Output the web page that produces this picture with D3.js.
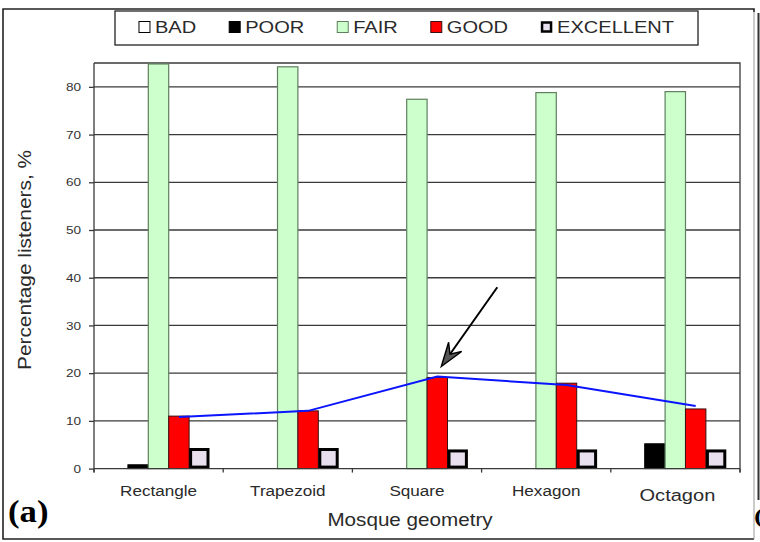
<!DOCTYPE html>
<html>
<head>
<meta charset="utf-8">
<script src="https://cdn.jsdelivr.net/npm/d3@7/dist/d3.min.js"></script>
<style>
  html, body { margin: 0; padding: 0; background: #fff; }
  svg { display: block; font-family: "Liberation Sans", Arial, sans-serif; }
</style>
</head>
<body>
<svg id="chart" width="760" height="542"></svg>
<script>
// Listener ratings per mosque geometry (% of listeners)
const categories = ["Rectangle", "Trapezoid", "Square", "Hexagon", "Octagon"];
const seriesNames = ["BAD", "POOR", "FAIR", "GOOD", "EXCELLENT"];
const badValues = [0, 0, 0, 0, 0];
const poorValues = [0.8, 0, 0, 0, 5.2];
const fairValues = [84.8, 84.2, 77.4, 78.8, 79.0];
const goodValues = [11.0, 12.1, 19.1, 17.9, 12.5];
const excellentValues = [4.0, 4.0, 3.7, 3.7, 3.7];
// trend line drawn over the GOOD bars
const trendValues = [10.8, 12.1, 19.3, 17.5, 13.1];
const yTicks = [0, 10, 20, 30, 40, 50, 60, 70, 80];
const yMax = 85;
const xTitle = "Mosque geometry";
const yTitle = "Percentage listeners, %";
const panelLabel = "(a)";
// arrow pointing at the Square peak
const arrowNote = { category: "Square", tailValue: 38, tipValue: 21.4 };

const seriesValues = [badValues, poorValues, fairValues, goodValues, excellentValues];
const seriesStyle = {
  BAD:       { fill: "#ffffff", stroke: "#000000", sw: 1 },
  POOR:      { fill: "#000000", stroke: "#000000", sw: 1 },
  FAIR:      { fill: "#ccffcc", stroke: "#5f7f5f", sw: 1.2 },
  GOOD:      { fill: "#ff0000", stroke: "#3a1010", sw: 1 },
  EXCELLENT: { fill: "#e8e0ee", stroke: "#000000", sw: 3 }
};

const SX = 1.18; // horizontal text stretch
const SERIF = "'Liberation Serif', 'Times New Roman', serif";

const svg = d3.select("#chart");
const plot = { left: 94, right: 740, top: 63, bottom: 468.6 };

const x = d3.scaleBand().domain(categories).range([plot.left, plot.right]).padding(0);
const inner = d3.scaleBand().domain(seriesNames)
  .range([13.5, x.bandwidth() - 13.7]).padding(0);
const y = d3.scaleLinear().domain([0, yMax]).range([plot.bottom, plot.top]);

// outer frame
svg.append("path")
  .attr("d", "M754,12 L754,9 L3,9 L3,539 L754,539")
  .attr("fill", "none").attr("stroke", "#222").attr("stroke-width", 1.6);
svg.append("line").attr("x1", 754).attr("x2", 754).attr("y1", 12).attr("y2", 539)
  .attr("stroke", "#999").attr("stroke-width", 1);
svg.append("line").attr("x1", 758.5).attr("x2", 758.5).attr("y1", 13).attr("y2", 500)
  .attr("stroke", "#333").attr("stroke-width", 2);
svg.append("text").attr("transform", "translate(754,523) scale(1.3,1)")
  .style("font-family", SERIF).attr("font-weight", "bold")
  .attr("font-size", 22).attr("fill", "#000").text("(");

// gridlines
svg.append("g").selectAll("line")
  .data(yTicks.filter(d => d > 0))
  .join("line")
  .attr("x1", plot.left).attr("x2", plot.right)
  .attr("y1", d => y(d)).attr("y2", d => y(d))
  .attr("stroke", "#3a3a3a").attr("stroke-width", 1.3);

// plot frame (top and right)
svg.append("path")
  .attr("d", `M${plot.left},${plot.top} L${plot.right},${plot.top} L${plot.right},${plot.bottom + 4}`)
  .attr("fill", "none").attr("stroke", "#3a3a3a").attr("stroke-width", 1.3);

// bars
const groups = svg.append("g").selectAll("g")
  .data(categories)
  .join("g")
  .attr("transform", d => `translate(${x(d)},0)`);

groups.selectAll("rect")
  .data((c, ci) => seriesNames.map((s, si) => ({ s, v: seriesValues[si][ci] })))
  .join("rect")
  .filter(d => d.v > 0)
  .attr("x", d => inner(d.s) + (d.s === "EXCELLENT" ? 1.5 : 0))
  .attr("width", d => inner.bandwidth() - (d.s === "EXCELLENT" ? 3 : 0))
  .attr("y", d => y(d.v))
  .attr("height", d => plot.bottom - y(d.v) - (d.s === "EXCELLENT" ? 1.5 : 0))
  .attr("fill", d => seriesStyle[d.s].fill)
  .attr("stroke", d => seriesStyle[d.s].stroke)
  .attr("stroke-width", d => seriesStyle[d.s].sw);

// trend line over GOOD bars
const goodCenter = c => x(c) + inner("GOOD") + inner.bandwidth() / 2;
svg.append("path")
  .datum(categories.map((c, i) => [goodCenter(c), y(trendValues[i])]))
  .attr("d", d3.line())
  .attr("fill", "none").attr("stroke", "#0a14ff").attr("stroke-width", 2);

// arrow annotation
{
  const gc = goodCenter(arrowNote.category);
  const tip = [gc + 4, y(arrowNote.tipValue)];
  const tail = [gc + 60, y(arrowNote.tailValue)];
  const dx = tip[0] - tail[0], dy = tip[1] - tail[1];
  const len = Math.hypot(dx, dy);
  const ux = dx / len, uy = dy / len, px = -uy, py = ux;
  const headLen = 24, halfW = 8, notch = 15;
  const b1 = [tip[0] - ux * headLen + px * halfW, tip[1] - uy * headLen + py * halfW];
  const b2 = [tip[0] - ux * headLen - px * halfW, tip[1] - uy * headLen - py * halfW];
  const n = [tip[0] - ux * notch, tip[1] - uy * notch];
  svg.append("line")
    .attr("x1", tail[0]).attr("y1", tail[1]).attr("x2", n[0]).attr("y2", n[1])
    .attr("stroke", "#000").attr("stroke-width", 2);
  svg.append("path")
    .attr("d", `M${tip}L${b1}L${n}L${b2}Z`)
    .attr("fill", "#555").attr("stroke", "#000").attr("stroke-width", 1.4)
    .attr("stroke-linejoin", "miter");
}

// y axis
const yAxis = svg.append("g")
  .attr("transform", `translate(${plot.left},0)`)
  .call(d3.axisLeft(y).tickValues(yTicks).tickSize(5).tickPadding(6).tickFormat(d3.format("d")));
yAxis.select(".domain").attr("stroke", "#3a3a3a").attr("stroke-width", 1.3)
  .attr("d", `M0,${plot.top}V${plot.bottom + 4}`);
yAxis.selectAll(".tick line").attr("stroke", "#3a3a3a").attr("stroke-width", 1.3);
yAxis.selectAll(".tick text")
  .attr("transform", `scale(${SX},1)`)
  .attr("font-size", 11.5).attr("fill", "#333")
  .style("font-family", "'Liberation Sans', Arial, sans-serif");

// x axis line with boundary ticks
const bounds = categories.map(c => x(c)).concat([plot.right]);
svg.append("line").attr("x1", plot.left).attr("x2", plot.right)
  .attr("y1", plot.bottom).attr("y2", plot.bottom)
  .attr("stroke", "#3a3a3a").attr("stroke-width", 1.3);
svg.append("g").selectAll("line").data(bounds).join("line")
  .attr("x1", d => d).attr("x2", d => d)
  .attr("y1", plot.bottom).attr("y2", plot.bottom + 4)
  .attr("stroke", "#3a3a3a").attr("stroke-width", 1.3);

// category labels
svg.append("g").selectAll("text").data(categories).join("text")
  .attr("transform", d => {
    const big = d === "Octagon";
    return `translate(${x(d) + x.bandwidth() / 2 + (big ? 2 : 0)},${big ? 501 : 495.5}) scale(${SX},1)`;
  })
  .attr("text-anchor", "middle")
  .attr("font-size", d => d === "Octagon" ? 17 : 14.5)
  .attr("fill", "#2a2a2a")
  .text(d => d);

// axis titles
svg.append("text")
  .attr("transform", `translate(${(plot.left + plot.right) / 2 - 7},526) scale(${SX},1)`)
  .attr("text-anchor", "middle").attr("font-size", 17.5).attr("fill", "#2a2a2a")
  .text(xTitle);
svg.append("text")
  .attr("transform", "translate(31,260) rotate(-90)")
  .attr("text-anchor", "middle").attr("font-size", 18).attr("fill", "#2a2a2a")
  .attr("textLength", 220).attr("lengthAdjust", "spacingAndGlyphs")
  .text(yTitle);

// panel label
svg.append("text")
  .attr("transform", `translate(8,522) scale(1.12,1)`)
  .style("font-family", SERIF)
  .attr("font-weight", "bold").attr("font-size", 31).attr("fill", "#000")
  .text(panelLabel);

// legend
const legendBox = { x: 115, y: 11, w: 583, h: 34 };
svg.append("rect")
  .attr("x", legendBox.x).attr("y", legendBox.y)
  .attr("width", legendBox.w).attr("height", legendBox.h)
  .attr("fill", "#fff").attr("stroke", "#222").attr("stroke-width", 1.3);

const legend = svg.append("g");
const items = legend.selectAll("g").data(seriesNames).join("g");
const sw = 11, swGap = 5, itemGap = 33;
items.append("rect")
  .attr("width", d => d === "EXCELLENT" ? sw - 2 : sw)
  .attr("height", d => d === "EXCELLENT" ? sw - 2 : sw)
  .attr("x", d => d === "EXCELLENT" ? 1 : 0)
  .attr("y", d => d === "EXCELLENT" ? 1 : 0)
  .attr("fill", d => seriesStyle[d].fill)
  .attr("stroke", d => seriesStyle[d].stroke)
  .attr("stroke-width", d => d === "EXCELLENT" ? 2.5 : 1);
items.append("text")
  .attr("transform", `translate(${sw + swGap},11.5) scale(${SX},1)`)
  .attr("font-size", 17).attr("fill", "#2a2a2a")
  .text(d => d);

// lay out legend items centred in the box
const widths = [];
items.each(function () {
  const t = d3.select(this).select("text").node();
  widths.push(sw + swGap + t.getComputedTextLength() * SX);
});
const total = d3.sum(widths) + itemGap * (widths.length - 1);
let cx = legendBox.x + (legendBox.w - total) / 2;
items.attr("transform", (d, i) => {
  const tx = cx;
  cx += widths[i] + itemGap;
  return `translate(${tx},${21.5})`;
});
</script>
</body>
</html>
